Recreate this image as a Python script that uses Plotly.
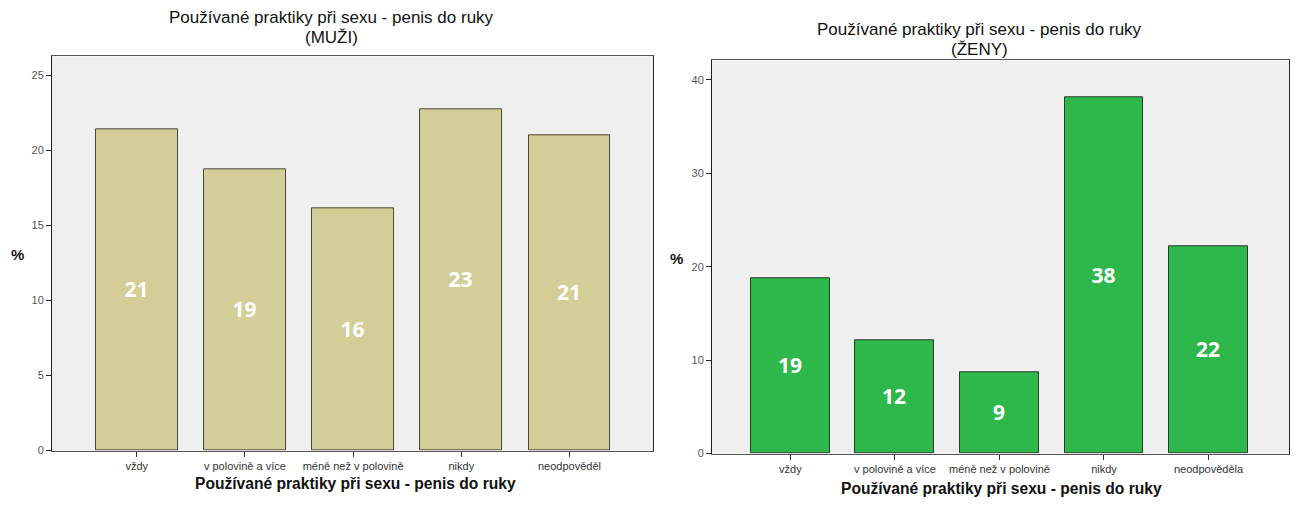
import plotly.graph_objects as go

# Response categories (x axis)
cats_m = ["vždy", "v polovině a více", "méně než v polovině", "nikdy", "neodpověděl"]
cats_f = ["vždy", "v polovině a více", "méně než v polovině", "nikdy", "neodpověděla"]

# Percentages per category
pct_m = [21.4, 18.7, 16.1, 22.7, 21.0]
pct_f = [18.8, 12.1, 8.7, 38.1, 22.2]

title_main = "Používané praktiky při sexu - penis do ruky"
subtitle_m = "(MUŽI)"
subtitle_f = "(ŽENY)"
x_title = "Používané praktiky při sexu - penis do ruky"
y_title = "%"

W, H = 1298, 507


def px(x):
    return x / W


def py(y):
    return 1 - y / H


label_font = dict(family="Open Sans", size=21, color="white", weight="bold")

fig = go.Figure()

fig.add_trace(go.Bar(
    x=cats_m, y=pct_m, xaxis="x", yaxis="y", width=0.755,
    marker=dict(color="#D3CE97", line=dict(color="#4A4838", width=1)),
    texttemplate="%{y:.0f}", textposition="inside", insidetextanchor="middle",
    textangle=0, textfont=label_font,
    showlegend=False, hoverinfo="skip",
))
fig.add_trace(go.Bar(
    x=cats_f, y=pct_f, xaxis="x2", yaxis="y2", width=0.755,
    marker=dict(color="#2EB84B", line=dict(color="#2B3A2B", width=1)),
    texttemplate="%{y:.0f}", textposition="inside", insidetextanchor="middle",
    textangle=0, textfont=label_font,
    showlegend=False, hoverinfo="skip",
))

tickfont = dict(family="Liberation Sans", size=11, color="#333333")
xt_font = dict(family="Liberation Sans", size=15.6, color="#111111")

common_x = dict(
    type="category", showgrid=False, zeroline=False,
    showline=True, linecolor="#555555", linewidth=1, mirror=True,
    ticks="outside", ticklen=5, tickcolor="#333333", tickfont=tickfont,
    fixedrange=True,
)
common_y = dict(
    showgrid=False, zeroline=False,
    showline=True, linecolor="#222222", linewidth=1, mirror=True,
    ticks="outside", ticklen=5, tickcolor="#222222",
    tickfont=dict(family="Liberation Sans", size=11, color="#555555"),
    fixedrange=True,
)

fig.update_layout(
    width=W, height=H,
    margin=dict(l=0, r=0, t=0, b=0),
    paper_bgcolor="white",
    plot_bgcolor="#EFEFF0",
    bargap=0,
    xaxis=dict(domain=[px(52), px(653)], anchor="y", range=[-0.783, 4.772], **common_x),
    yaxis=dict(domain=[py(456), py(57)], anchor="x", range=[0, 26.25], dtick=5, **common_y),
    xaxis2=dict(domain=[px(712), px(1289)], anchor="y2", range=[-0.75, 4.77], **common_x),
    yaxis2=dict(domain=[py(459), py(61)], anchor="x2", range=[0, 42.1], dtick=10, **common_y),
)

title_font = dict(family="Liberation Sans", size=17, color="#111111")
annots = [
    dict(text=title_main, x=px(331), y=py(18), font=title_font),
    dict(text=subtitle_m, x=px(331), y=py(38), font=title_font),
    dict(text=title_main, x=px(979), y=py(30), font=title_font),
    dict(text=subtitle_f, x=px(979), y=py(50), font=title_font),
    dict(text="<b>" + x_title + "</b>", x=px(355), y=py(489), font=xt_font),
    dict(text="<b>" + x_title + "</b>", x=px(1001), y=py(494), font=xt_font),
    dict(text="<b>" + y_title + "</b>", x=px(17), y=py(258), font=dict(family="Liberation Sans", size=15, color="#111111")),
    dict(text="<b>" + y_title + "</b>", x=px(677), y=py(262), font=dict(family="Liberation Sans", size=15, color="#111111")),
]
for a in annots:
    fig.add_annotation(xref="paper", yref="paper", showarrow=False,
                       xanchor="center", yanchor="middle", **a)

fig.write_html("out.html")
